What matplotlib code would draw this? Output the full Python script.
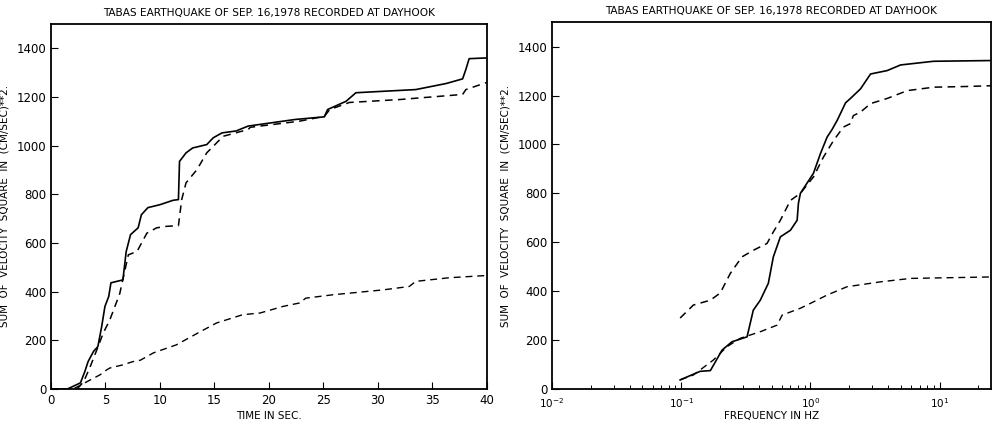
import matplotlib
matplotlib.use('Agg')
import matplotlib.pyplot as plt
from matplotlib.ticker import LogLocator, NullFormatter

TITLE = "TABAS EARTHQUAKE OF SEP. 16,1978 RECORDED AT DAYHOOK"
YLABEL = "SUM  OF  VELOCITY  SQUARE  IN  (CM/SEC)**2."

# cumulative energy vs time (s)
t_solid = [0, 1.5, 1.9, 2.7, 3.1, 3.4, 3.9, 4.3, 4.65, 4.95, 5.3, 5.5, 6.6, 6.9, 7.3, 8.0,
           8.3, 8.9, 10.0, 11.2, 11.7, 11.8, 12.4, 13.0, 14.3, 14.9, 15.7, 17.0, 18.1,
           22.4, 25.1, 25.4, 27.1, 28.0, 33.5, 36.3, 37.8, 38.1, 38.4, 40.0]
v_solid = [0, 0, 8, 25, 71, 112, 154, 174, 256, 339, 380, 436, 448, 564, 634, 662,
           716, 745, 757, 775, 778, 935, 970, 990, 1004, 1032, 1052, 1060, 1080,
           1107, 1118, 1148, 1182, 1217, 1230, 1255, 1274, 1313, 1357, 1360]

t_dash1 = [0, 2.4, 3.0, 3.6, 4.2, 4.8, 5.4, 6.3, 7.1, 7.9, 8.8, 9.7, 10.6, 11.7, 12.0,
           12.4, 13.4, 14.3, 14.9, 15.8, 18.1, 18.3, 22.8, 25.1, 25.6, 27.4, 32.0,
           37.8, 38.1, 40.0]
v_dash1 = [0, 0, 30, 92, 160, 230, 284, 390, 551, 565, 640, 662, 668, 671, 778,
           847, 901, 970, 997, 1038, 1066, 1075, 1100, 1120, 1148, 1177, 1189,
           1210, 1230, 1259]

t_dash2 = [0, 2.0, 2.35, 3.6, 4.5, 5.1, 5.4, 6.6, 7.5, 8.2, 9.4, 9.7, 11.5, 13.7, 15.2,
           17.6, 19.2, 21.3, 22.8, 23.4, 25.9, 30.5, 32.9, 33.5, 36.6, 39.6, 40.0]
v_dash2 = [0, 0, 7, 37, 58, 78, 86, 99, 112, 118, 148, 153, 181, 235, 271,
           305, 312, 339, 353, 373, 387, 407, 421, 442, 457, 465, 466]

# cumulative energy vs frequency (Hz)
f_solid = [0.098, 0.14, 0.168, 0.207, 0.247, 0.323, 0.361, 0.409, 0.472, 0.516, 0.585,
           0.70, 0.789, 0.807, 0.836, 1.055, 1.196, 1.346, 1.47, 1.61, 1.87, 2.04,
           2.44, 2.92, 3.93, 4.99, 8.98, 25.0]
e_solid = [37, 72, 75, 159, 193, 213, 322, 363, 432, 540, 622,
           649, 690, 759, 800, 882, 963, 1030, 1061, 1098, 1170, 1188,
           1227, 1288, 1302, 1325, 1340, 1343]

f_dash1 = [0.098, 0.124, 0.168, 0.2, 0.24, 0.295, 0.361, 0.461, 0.516, 0.585, 0.70,
           0.836, 1.055, 1.26, 1.51, 1.80, 2.04, 2.15, 2.44, 2.92, 3.93, 5.62, 8.98,
           16.4, 25.0]
e_dash1 = [290, 343, 363, 392, 473, 540, 567, 595, 642, 690, 771,
           800, 867, 948, 1016, 1071, 1085, 1118, 1132, 1167, 1188, 1220, 1234,
           1237, 1240]

f_dash2 = [0.098, 0.124, 0.177, 0.226, 0.286, 0.409, 0.552, 0.604, 0.836, 1.055, 1.346,
           1.92, 3.49, 5.96, 25.0]
e_dash2 = [37, 57, 118, 173, 207, 234, 261, 302, 330, 356, 384,
           418, 438, 452, 458]

DASH = (0, (5, 3.5))

plt.rcParams['font.family'] = 'DejaVu Sans'
fig = plt.figure(figsize=(9.93, 4.26), dpi=100)
ax1 = fig.add_axes([0.0514, 0.087, 0.4386, 0.857])
ax2 = fig.add_axes([0.556, 0.087, 0.442, 0.861])

ax1.plot(t_solid, v_solid, color='black', lw=1.2)
ax1.plot(t_dash1, v_dash1, color='black', lw=1.1, linestyle=DASH)
ax1.plot(t_dash2, v_dash2, color='black', lw=1.0, linestyle=DASH)
ax1.set_xlim(0, 40)
ax1.set_ylim(0, 1500)
ax1.set_xticks(range(0, 41, 5))
ax1.set_yticks(range(0, 1401, 200))
ax1.set_xlabel("TIME IN SEC.", fontsize=7.5, labelpad=3)

ax2.plot(f_solid, e_solid, color='black', lw=1.2)
ax2.plot(f_dash1, e_dash1, color='black', lw=1.1, linestyle=DASH)
ax2.plot(f_dash2, e_dash2, color='black', lw=1.0, linestyle=DASH)
ax2.set_xscale('log')
ax2.set_xlim(0.01, 25)
ax2.set_ylim(0, 1500)
ax2.set_yticks(range(0, 1401, 200))
ax2.xaxis.set_minor_locator(LogLocator(base=10, subs=range(2, 10), numticks=20))
ax2.xaxis.set_minor_formatter(NullFormatter())
ax2.set_xlabel("FREQUENCY IN HZ", fontsize=7.5, labelpad=1)

for ax in (ax1, ax2):
    ax.set_title(TITLE, fontsize=7.6, pad=6)
    ax.set_ylabel(YLABEL, fontsize=7.5, labelpad=5)
    ax.tick_params(which='major', direction='in', length=5, width=0.8, labelsize=8.5)
    ax.tick_params(which='minor', direction='in', length=3, width=0.7)
    for side in ax.spines.values():
        side.set_linewidth(1.3)

# log tick labels a little smaller and lower so they clear the "0" label
ax2.tick_params(axis='x', which='major', labelsize=7.5, pad=5)

fig.savefig("out.png", dpi=100)
plt.close(fig)
